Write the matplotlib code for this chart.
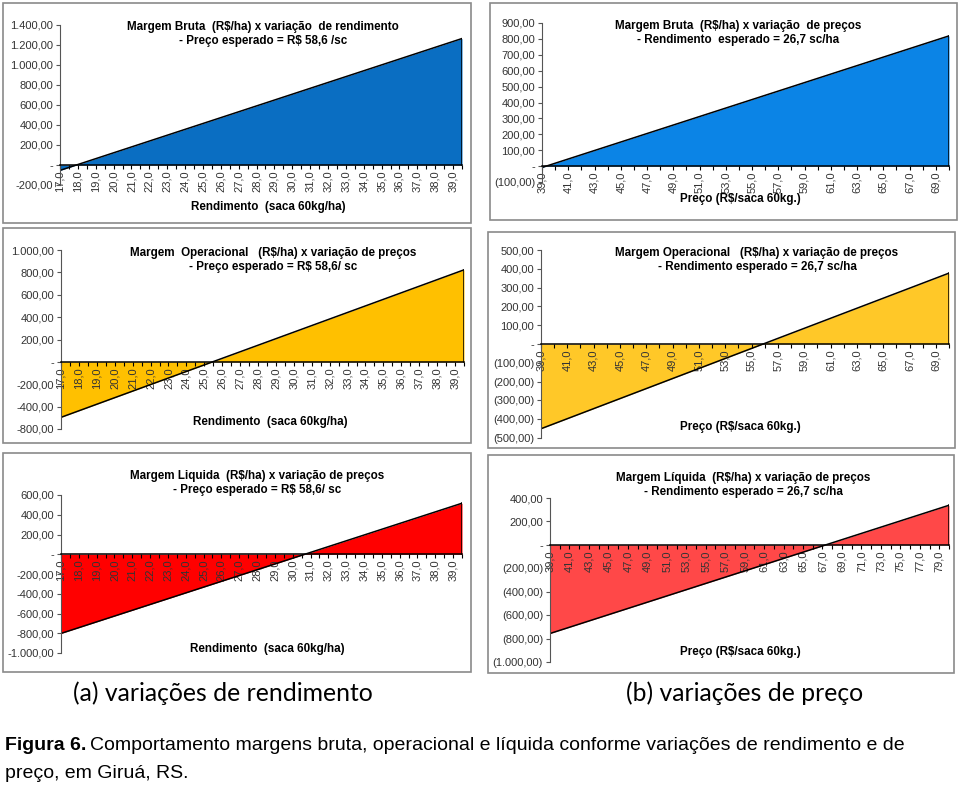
import numpy as np
import matplotlib
matplotlib.use('Agg')
import matplotlib.pyplot as plt
from matplotlib.patches import Rectangle
from matplotlib.ticker import FixedLocator

plt.rcParams['font.family'] = ['Liberation Sans', 'DejaVu Sans']

# categorias (eixo x)
rend = [17.0, 17.5, 18.0, 18.5, 19.0, 19.5, 20.0, 20.5, 21.0, 21.5, 22.0, 22.5,
        23.0, 23.5, 24.0, 24.5, 25.0, 25.5, 26.0, 26.5, 27.0, 27.5, 28.0, 28.5,
        29.0, 29.5, 30.0, 30.5, 31.0, 31.5, 32.0, 32.5, 33.0, 33.5, 34.0, 34.5,
        35.0, 35.5, 36.0, 36.5, 37.0, 37.5, 38.0, 38.5, 39.0, 39.5]
preco = [39, 40, 41, 42, 43, 44, 45, 46, 47, 48, 49, 50, 51, 52, 53, 54,
         55, 56, 57, 58, 59, 60, 61, 62, 63, 64, 65, 66, 67, 68, 69, 70]
preco_ml = [39, 40, 41, 42, 43, 44, 45, 46, 47, 48, 49, 50, 51, 52, 53, 54,
            55, 56, 57, 58, 59, 60, 61, 62, 63, 64, 65, 66, 67, 68, 69, 70,
            71, 72, 73, 74, 75, 76, 77, 78, 79, 80]

# margens (R$/ha)
mb_rend = [-53.8, -24.5, 4.8, 34.1, 63.4, 92.7, 122.0, 151.3, 180.6, 209.9, 239.2,
           268.5, 297.8, 327.1, 356.4, 385.7, 415.0, 444.3, 473.6, 502.9, 532.2,
           561.5, 590.8, 620.1, 649.4, 678.7, 708.0, 737.3, 766.6, 795.9, 825.2,
           854.5, 883.8, 913.1, 942.4, 971.7, 1001.0, 1030.3, 1059.6, 1088.9,
           1118.2, 1147.5, 1176.8, 1206.1, 1235.4, 1264.7]
mo_rend = [-495.8, -466.5, -437.2, -407.9, -378.6, -349.3, -320.0, -290.7, -261.4,
           -232.1, -202.8, -173.5, -144.2, -114.9, -85.6, -56.3, -27.0, 2.3, 31.6,
           60.9, 90.2, 119.5, 148.8, 178.1, 207.4, 236.7, 266.0, 295.3, 324.6,
           353.9, 383.2, 412.5, 441.8, 471.1, 500.4, 529.7, 559.0, 588.3, 617.6,
           646.9, 676.2, 705.5, 734.8, 764.1, 793.4, 822.7]
ml_rend = [-801.8, -772.5, -743.2, -713.9, -684.6, -655.3, -626.0, -596.7, -567.4,
           -538.1, -508.8, -479.5, -450.2, -420.9, -391.6, -362.3, -333.0, -303.7,
           -274.4, -245.1, -215.8, -186.5, -157.2, -127.9, -98.6, -69.3, -40.0,
           -10.7, 18.6, 47.9, 77.2, 106.5, 135.8, 165.1, 194.4, 223.7, 253.0,
           282.3, 311.6, 340.9, 370.2, 399.5, 428.8, 458.1, 487.4, 516.7]
mb_preco = [-8.7, 18.0, 44.7, 71.4, 98.1, 124.8, 151.5, 178.2, 204.9, 231.6, 258.3,
            285.0, 311.7, 338.4, 365.1, 391.8, 418.5, 445.2, 471.9, 498.6, 525.3,
            552.0, 578.7, 605.4, 632.1, 658.8, 685.5, 712.2, 738.9, 765.6, 792.3,
            819.0]
mo_preco = [-450.7, -424.0, -397.3, -370.6, -343.9, -317.2, -290.5, -263.8, -237.1,
            -210.4, -183.7, -157.0, -130.3, -103.6, -76.9, -50.2, -23.5, 3.2, 29.9,
            56.6, 83.3, 110.0, 136.7, 163.4, 190.1, 216.8, 243.5, 270.2, 296.9,
            323.6, 350.3, 377.0]
ml_preco = [-756.7, -730.0, -703.3, -676.6, -649.9, -623.2, -596.5, -569.8, -543.1,
            -516.4, -489.7, -463.0, -436.3, -409.6, -382.9, -356.2, -329.5, -302.8,
            -276.1, -249.4, -222.7, -196.0, -169.3, -142.6, -115.9, -89.2, -62.5,
            -35.8, -9.1, 17.6, 44.3, 71.0, 97.7, 124.4, 151.1, 177.8, 204.5, 231.2,
            257.9, 284.6, 311.3, 338.0]

W, H = 960, 785
fig = plt.figure(figsize=(W / 100, H / 100), dpi=100)

def px(x0, y0, x1, y1):
    return [x0 / W, 1 - y1 / H, (x1 - x0) / W, (y1 - y0) / H]

def fmt(v, paren):
    if v == 0:
        return '-'
    s = f"{abs(v):,.2f}".replace(',', 'X').replace('.', ',').replace('X', '.')
    if v < 0:
        return f"({s})" if paren else '-' + s
    return s

def painel(box, axbox, x, y, color, ylim, ystep, xlab_step, title, xlabel,
           tpos, lpos, paren, override=None):
    fig.patches.append(Rectangle((box[0] / W, 1 - box[3] / H),
                                 (box[2] - box[0]) / W, (box[3] - box[1]) / H,
                                 transform=fig.transFigure, fill=False,
                                 edgecolor='#8a8a8a', lw=1.2))
    ax = fig.add_axes(px(*axbox))
    ax.fill_between(x, y, 0, color=color, lw=0, zorder=1)
    ax.plot(x, y, color='black', lw=1.1, zorder=2)
    ax.plot([x[-1], x[-1]], [0, y[-1]], color='black', lw=1.1, zorder=2)
    ax.set_xlim(x[0], x[-1])
    ax.set_ylim(*ylim)
    for s in ['top', 'right']:
        ax.spines[s].set_visible(False)
    ax.spines['bottom'].set_position(('data', 0))
    ax.spines['bottom'].set_zorder(3)
    ax.spines['left'].set_color('#555555')
    ax.spines['bottom'].set_color('black')
    ax.spines['bottom'].set_linewidth(1.1)
    yt = np.arange(ylim[0], ylim[1] + ystep / 2, ystep)
    ax.set_yticks(yt)
    labels = [fmt(v, paren) for v in yt]
    if override:
        for k, v in override.items():
            labels[list(yt).index(k)] = v
    ax.set_yticklabels(labels)
    ax.xaxis.set_minor_locator(FixedLocator(x))
    ax.set_xticks(x[::xlab_step])
    ax.set_xticklabels([f"{v:.1f}".replace('.', ',') for v in x[::xlab_step]],
                       rotation=90)
    ax.tick_params(axis='x', which='both', length=3, width=0.8, pad=1,
                   labelsize=8, labelcolor='#333333', direction='out')
    ax.tick_params(axis='y', length=3, width=0.8, pad=2, labelsize=8,
                   labelcolor='#333333', color='#555555')
    for t in ax.get_xticklabels():
        t.set_zorder(4)
    ax.patch.set_alpha(0)
    fig.text(tpos[0] / W, 1 - tpos[1] / H, title, ha='center', va='center',
             fontsize=8.4, fontweight='bold', linespacing=1.2)
    fig.text(lpos[0] / W, 1 - lpos[1] / H, xlabel, ha='center', va='center',
             fontsize=8.4, fontweight='bold')
    return ax

xr = 'Rendimento  (saca 60kg/ha)'
xp = 'Preço (R$/saca 60kg.)'

painel((3, 3, 471, 223), (60, 25, 462, 185), rend, mb_rend, '#0A6EC2',
       (-200, 1400), 200, 2,
       'Margem Bruta  (R$/ha) x variação  de rendimento\n- Preço esperado = R$ 58,6 /sc',
       xr, (263, 34), (268, 207), False)
painel((490, 3, 957, 220), (542, 23, 949, 182), preco, mb_preco, '#0B84E6',
       (-100, 900), 100, 2,
       'Margem Bruta  (R$/ha) x variação  de preços\n- Rendimento  esperado = 26,7 sc/ha',
       xp, (738, 33), (740, 199), True)
painel((3, 228, 471, 443), (61, 250, 464, 429), rend, mo_rend, '#FFC000',
       (-600, 1000), 200, 2,
       'Margem  Operacional   (R$/ha) x variação de preços\n- Preço esperado = R$ 58,6/ sc',
       xr, (273, 260), (270, 422), False, override={-600: '-800,00'})
painel((488, 232, 955, 448), (541, 250, 949, 438), preco, mo_preco, '#FFC828',
       (-500, 500), 100, 2,
       'Margem Operacional   (R$/ha) x variação de preços\n- Rendimento esperado = 26,7 sc/ha',
       xp, (757, 260), (740, 427), True)
painel((3, 453, 471, 672), (61, 495, 462, 653), rend, ml_rend, '#FF0000',
       (-1000, 600), 200, 2,
       'Margem Liquida  (R$/ha) x variação de preços\n- Preço esperado = R$ 58,6/ sc',
       xr, (257, 483), (267, 649), False)
painel((488, 455, 954, 673), (550, 498, 949, 662), preco_ml, ml_preco, '#FF4848',
       (-1000, 400), 200, 2,
       'Margem Líquida  (R$/ha) x variação de preços\n- Rendimento esperado = 26,7 sc/ha',
       xp, (743, 485), (740, 652), True)

fig.text(223 / W, 1 - 693 / H, '(a) variações de rendimento', ha='center',
         va='center', fontsize=17.8, family=['Lato', 'DejaVu Sans'])
fig.text(745 / W, 1 - 693 / H, '(b) variações de preço', ha='center',
         va='center', fontsize=17.8, family=['Lato', 'DejaVu Sans'])

narrow = ['Liberation Sans Narrow', 'Liberation Sans', 'DejaVu Sans']
t1 = fig.text(5 / W, 1 - 745 / H, 'Figura 6.', ha='left', va='center',
              fontsize=14, fontweight='bold', family=narrow)
fig.canvas.draw()
bb = t1.get_window_extent()
fig.text((bb.x1 + 4) / W, 1 - 745 / H,
         'Comportamento margens bruta, operacional e líquida conforme variações de rendimento e de',
         ha='left', va='center', fontsize=14, family=narrow)
fig.text(5 / W, 1 - 773 / H, 'preço, em Giruá, RS.', ha='left', va='center',
         fontsize=14, family=narrow)

fig.savefig('out.png', dpi=100, facecolor='white')
